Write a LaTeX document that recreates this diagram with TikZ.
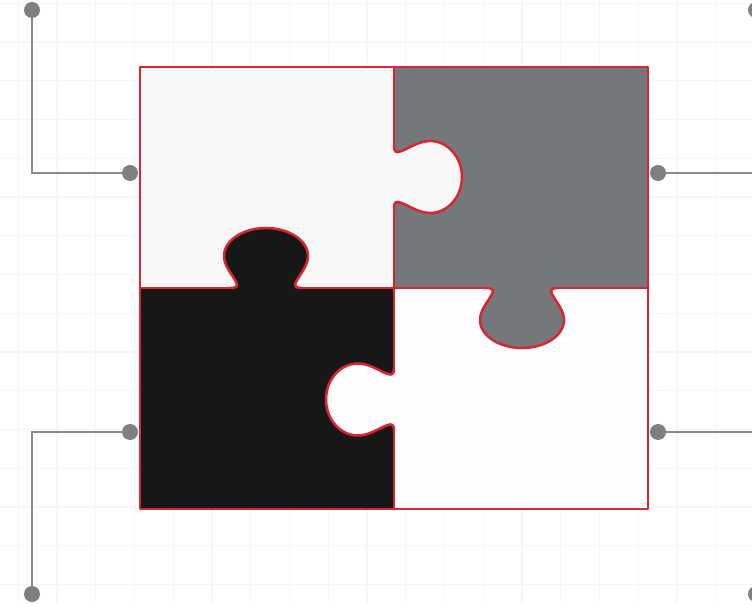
\documentclass[tikz,border=0pt]{standalone}
\definecolor{gridc}{HTML}{F6F6F6}
\definecolor{pzred}{HTML}{DA2630}
\definecolor{conncol}{HTML}{8A8A8A}
\definecolor{dotcol}{HTML}{808080}
\definecolor{tlc}{HTML}{F7F7F7}
\definecolor{trc}{HTML}{75787B}
\definecolor{blc}{HTML}{171717}
\definecolor{brc}{HTML}{FDFDFD}
\newcommand{\pztab}{(-36,0) .. controls (-29,0) and (-28,2) .. (-30,6) .. controls (-34,14) and (-42,22) .. (-42,32) .. controls (-42,47.5) and (-23,60) .. (0,60) .. controls (23,60) and (42,47.5) .. (42,32) .. controls (42,22) and (34,14) .. (30,6) .. controls (28,2) and (29,0) .. (36,0)}
\tikzset{
  dot/.style={circle, fill=dotcol, draw=none, minimum size=12pt, inner sep=0pt},
  conn/.style={draw=conncol, line width=1pt},
  pzline/.style={draw=pzred, line width=1.9pt, line cap=round, line join=round},
  gridline/.style={draw=gridc, line width=0.8pt}
}
\begin{document}
\begin{tikzpicture}[x=0.75pt,y=0.75pt]
\useasboundingbox (0,0) rectangle (752,603);
\clip (0,0) rectangle (752,603);
\fill[white] (0,0) rectangle (752,603);
\foreach \i in {0,...,19} { \draw[gridline] ({18.25+\i*38.75},0) -- ++(0,603); }
\foreach \j in {0,...,15} { \draw[gridline] (0,{603-3.25-\j*38.75}) -- ++(752,0); }
% connectors
\node[dot] (d1) at (32,593) {};
\node[dot] (d2) at (130,430) {};
\node[dot] (d3) at (130,171) {};
\node[dot] (d4) at (32,9) {};
\node[dot] (d5) at (658,430) {};
\node[dot] (d6) at (658,171) {};
\node[dot] (d7) at (756,593) {};
\node[dot] (d8) at (756,9) {};
\draw[conn] (d1) |- (d2);
\draw[conn] (d3) -| (d4);
\draw[conn] (d5) -| (d7);
\draw[conn] (d6) -| (d8);
% pieces
\fill[tlc] (140,315) rectangle (394,536);
\fill[trc] (394,315) rectangle (648,536);
\fill[blc] (140,94) rectangle (394,315);
\fill[brc] (394,94) rectangle (648,315);
% tab 1: black up into top-left
\begin{scope}[shift={(266,315)}]
  \fill[blc] \pztab -- cycle;
  \draw[pzline] \pztab;
  \coordinate (t1a) at (-36,0); \coordinate (t1b) at (36,0);
\end{scope}
% tab 3: gray down into bottom-right
\begin{scope}[shift={(522,315)}, rotate=180]
  \fill[trc] \pztab -- cycle;
  \draw[pzline] \pztab;
  \coordinate (t3a) at (36,0); \coordinate (t3b) at (-36,0);
\end{scope}
% tab 2: light right into gray
\begin{scope}[shift={(394,426)}, rotate=-90, xscale=0.857, yscale=1.133]
  \fill[tlc] \pztab -- cycle;
  \draw[pzline] \pztab;
  \coordinate (t2a) at (-36,0); \coordinate (t2b) at (36,0);
\end{scope}
% tab 4: white left into black
\begin{scope}[shift={(394,203.5)}, rotate=90, xscale=0.857, yscale=1.133]
  \fill[brc] \pztab -- cycle;
  \draw[pzline] \pztab;
  \coordinate (t4a) at (36,0); \coordinate (t4b) at (-36,0);
\end{scope}
% dividers
\coordinate (hl) at (140,315); \coordinate (hr) at (648,315);
\coordinate (vt) at (394,536); \coordinate (vb) at (394,94);
\draw[pzline] (hl) -- (t1a) (t1b) -- (t3a) (t3b) -- (hr);
\draw[pzline] (vt) -- (t2a) (t2b) -- (t4a) (t4b) -- (vb);
\draw[pzline] (140,94) rectangle (648,536);
\end{tikzpicture}
\end{document}
